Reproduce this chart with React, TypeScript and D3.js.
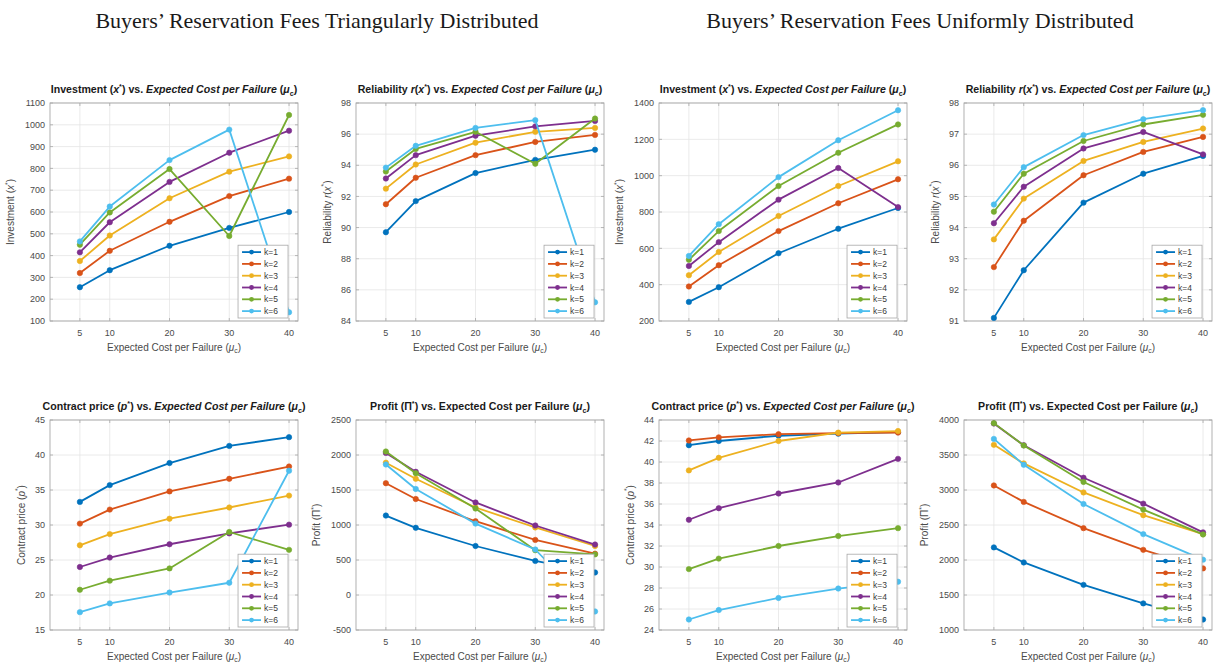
import React from "react";
import * as d3 from "d3";

// Expected cost per failure (x axis)
const X_VALUES = [5, 10, 20, 30, 40];
const X_TICKS = [5, 10, 20, 30, 40];
const SERIES_LABELS = ["k=1", "k=2", "k=3", "k=4", "k=5", "k=6"];
const SERIES_COLORS = ["#0072BD", "#D95319", "#EDB120", "#7E2F8E", "#77AC30", "#4DBEEE"];

// Buyers' reservation fees triangularly distributed
const triInvestment = [
  [255, 333, 445, 527, 600],
  [320, 422, 555, 673, 753],
  [375, 492, 663, 785, 855],
  [415, 553, 738, 872, 973],
  [450, 598, 797, 490, 1045],
  [465, 625, 838, 978, 140],
];
const triReliability = [
  [89.7, 91.7, 93.5, 94.35, 95.0],
  [91.5, 93.2, 94.65, 95.5, 95.95],
  [92.5, 94.05, 95.45, 96.15, 96.4],
  [93.15, 94.65, 95.9, 96.5, 96.85],
  [93.6, 95.05, 96.15, 94.1, 97.0],
  [93.85, 95.25, 96.4, 96.9, 85.2],
];
const triPrice = [
  [33.3, 35.7, 38.85, 41.3, 42.55],
  [30.2, 32.2, 34.8, 36.6, 38.35],
  [27.1, 28.7, 30.9, 32.5, 34.2],
  [24.0, 25.35, 27.25, 28.8, 30.05],
  [20.75, 22.05, 23.8, 29.0, 26.45],
  [17.55, 18.8, 20.35, 21.75, 37.75],
];
const triProfit = [
  [1135, 960, 700, 487, 322],
  [1597, 1371, 1054, 787, 590],
  [1890, 1660, 1250, 965, 700],
  [2030, 1760, 1322, 993, 721],
  [2050, 1740, 1235, 640, 580],
  [1865, 1515, 1020, 650, -235],
];

// Buyers' reservation fees uniformly distributed
const uniInvestment = [
  [305, 386, 573, 708, 822],
  [390, 507, 695, 848, 980],
  [452, 580, 778, 943, 1079],
  [503, 634, 868, 1042, 827],
  [537, 695, 943, 1126, 1282],
  [558, 733, 992, 1195, 1360],
];
const uniReliability = [
  [91.1, 92.63, 94.8, 95.73, 96.3],
  [92.73, 94.22, 95.68, 96.43, 96.91],
  [93.62, 94.93, 96.14, 96.75, 97.18],
  [94.14, 95.31, 96.54, 97.07, 96.35],
  [94.51, 95.73, 96.78, 97.31, 97.62],
  [94.74, 95.94, 96.97, 97.48, 97.77],
];
const uniPrice = [
  [41.6, 42.0, 42.5, 42.7, 42.85],
  [42.05, 42.35, 42.65, 42.75, 42.8],
  [39.2, 40.4, 42.0, 42.8, 42.95],
  [34.5, 35.6, 37.0, 38.05, 40.3],
  [29.8, 30.8, 32.0, 32.95, 33.7],
  [25.0, 25.9, 27.05, 27.95, 28.6],
];
const uniProfit = [
  [2180, 1965, 1645, 1380, 1150],
  [3065, 2830, 2455, 2145, 1880],
  [3645, 3380, 2965, 2640, 2370],
  [3950, 3640, 3175, 2805, 2395],
  [3955, 3635, 3115, 2720, 2365],
  [3730, 3360, 2800, 2370, 2005],
];

// Y tick values per panel
const ticksTriInvestment = [100, 200, 300, 400, 500, 600, 700, 800, 900, 1000, 1100];
const ticksTriReliability = [84, 86, 88, 90, 92, 94, 96, 98];
const ticksTriPrice = [15, 20, 25, 30, 35, 40, 45];
const ticksTriProfit = [-500, 0, 500, 1000, 1500, 2000, 2500];
const ticksUniInvestment = [200, 400, 600, 800, 1000, 1200, 1400];
const ticksUniReliability = [91, 92, 93, 94, 95, 96, 97, 98];
const ticksUniPrice = [24, 26, 28, 30, 32, 34, 36, 38, 40, 42, 44];
const ticksUniProfit = [1000, 1500, 2000, 2500, 3000, 3500, 4000];

const MAIN_TITLES = [
  "Buyers\u2019 Reservation Fees Triangularly Distributed",
  "Buyers\u2019 Reservation Fees Uniformly Distributed",
];

type Seg = { t: string; i?: boolean; sup?: boolean; sub?: boolean };

const costItalic: Seg[] = [
  { t: ") vs. " },
  { t: "Expected Cost per Failure", i: true },
  { t: " (" },
  { t: "\u03bc", i: true },
  { t: "c", sub: true },
  { t: ")" },
];
const costPlain: Seg[] = [
  { t: ") vs. Expected Cost per Failure (" },
  { t: "\u03bc", i: true },
  { t: "c", sub: true },
  { t: ")" },
];

const yInvestment: Seg[] = [{ t: "Investment (" }, { t: "x", i: true }, { t: "*", sup: true }, { t: ")" }];
const yReliability: Seg[] = [{ t: "Reliability " }, { t: "r", i: true }, { t: "(" }, { t: "x", i: true }, { t: "*", sup: true }, { t: ")" }];
const yPrice: Seg[] = [{ t: "Contract price (" }, { t: "p", i: true }, { t: "*", sup: true }, { t: ")" }];
const yProfit: Seg[] = [{ t: "Profit (\u03a0" }, { t: "*", sup: true }, { t: ")" }];
const xLabel: Seg[] = [{ t: "Expected Cost per Failure (" }, { t: "\u03bc", i: true }, { t: "c", sub: true }, { t: ")" }];

const tInvestment: Seg[] = [{ t: "Investment (" }, { t: "x", i: true }, { t: "*", sup: true }, ...costItalic];
const tReliability: Seg[] = [{ t: "Reliability " }, { t: "r", i: true }, { t: "(" }, { t: "x", i: true }, { t: "*", sup: true }, ...costItalic];
const tPrice: Seg[] = [{ t: "Contract price (" }, { t: "p", i: true }, { t: "*", sup: true }, ...costItalic];
const tProfit: Seg[] = [{ t: "Profit (\u03a0" }, { t: "*", sup: true }, ...costPlain];

type Panel = {
  row: number;
  col: number;
  title: Seg[];
  ylabel: Seg[];
  yTicks: number[];
  data: number[][];
};

const PANELS: Panel[] = [
  { row: 0, col: 0, title: tInvestment, ylabel: yInvestment, yTicks: ticksTriInvestment, data: triInvestment },
  { row: 0, col: 1, title: tReliability, ylabel: yReliability, yTicks: ticksTriReliability, data: triReliability },
  { row: 0, col: 2, title: tInvestment, ylabel: yInvestment, yTicks: ticksUniInvestment, data: uniInvestment },
  { row: 0, col: 3, title: tReliability, ylabel: yReliability, yTicks: ticksUniReliability, data: uniReliability },
  { row: 1, col: 0, title: tPrice, ylabel: yPrice, yTicks: ticksTriPrice, data: triPrice },
  { row: 1, col: 1, title: tProfit, ylabel: yProfit, yTicks: ticksTriProfit, data: triProfit },
  { row: 1, col: 2, title: tPrice, ylabel: yPrice, yTicks: ticksUniPrice, data: uniPrice },
  { row: 1, col: 3, title: tProfit, ylabel: yProfit, yTicks: ticksUniProfit, data: uniProfit },
];

// Layout of the subplot grid
const W = 1226;
const H = 666;
const COL_LEFT = [50, 356, 659, 964];
const AX_W = 248;
const ROW_TOP = [103, 420];
const ROW_H = [218, 210];
const X_DOMAIN: [number, number] = [0, 41.5];

const SANS = "'Liberation Sans', Arial, Helvetica, sans-serif";
const SERIF = "'Liberation Serif', 'Times New Roman', serif";

function Rich({ segs, size }: { segs: Seg[]; size: number }) {
  let shift = 0;
  return (
    <>
      {segs.map((s, i) => {
        const target = s.sup ? -size * 0.42 : s.sub ? size * 0.28 : 0;
        const dy = target - shift;
        shift = target;
        return (
          <tspan
            key={i}
            dy={dy !== 0 ? dy : undefined}
            fontStyle={s.i ? "italic" : undefined}
            fontSize={s.sup || s.sub ? size * 0.68 : undefined}
          >
            {s.t}
          </tspan>
        );
      })}
    </>
  );
}

function Subplot({ p }: { p: Panel }) {
  const left = COL_LEFT[p.col];
  const top = ROW_TOP[p.row];
  const axH = ROW_H[p.row];
  const right = left + AX_W;
  const bottom = top + axH;
  const yDomain = d3.extent(p.yTicks) as [number, number];
  const x = d3.scaleLinear().domain(X_DOMAIN).range([left, right]);
  const y = d3.scaleLinear().domain(yDomain).range([bottom, top]);
  const line = d3
    .line<number>()
    .x((_, i) => x(X_VALUES[i]))
    .y((d) => y(d));

  const maxLabelLen = d3.max(p.yTicks, (t) => String(t).length) ?? 3;
  const ylabelX = left - 6 - maxLabelLen * 5.2 - 9;
  const tick = 3;

  // Legend geometry (southeast corner)
  const legW = 50;
  const legRowH = 11.8;
  const legH = legRowH * SERIES_LABELS.length + 2;
  const legRight = x(40) - 1;
  const legLeft = legRight - legW;
  const legBottom = bottom - 3;
  const legTop = legBottom - legH;

  return (
    <g>
      {/* grid */}
      <g stroke="#e4e4e4" strokeWidth={0.8}>
        {X_TICKS.map((t) => (
          <line key={"gx" + t} x1={x(t)} x2={x(t)} y1={top} y2={bottom} />
        ))}
        {p.yTicks.map((t) => (
          <line key={"gy" + t} x1={left} x2={right} y1={y(t)} y2={y(t)} />
        ))}
      </g>
      {/* axes box and ticks */}
      <rect x={left} y={top} width={AX_W} height={axH} fill="none" stroke="#a8a8a8" strokeWidth={0.9} />
      <g stroke="#a8a8a8" strokeWidth={0.8}>
        {X_TICKS.map((t) => (
          <g key={"tx" + t}>
            <line x1={x(t)} x2={x(t)} y1={bottom} y2={bottom - tick} />
            <line x1={x(t)} x2={x(t)} y1={top} y2={top + tick} />
          </g>
        ))}
        {p.yTicks.map((t) => (
          <g key={"ty" + t}>
            <line x1={left} x2={left + tick} y1={y(t)} y2={y(t)} />
            <line x1={right} x2={right - tick} y1={y(t)} y2={y(t)} />
          </g>
        ))}
      </g>
      {/* tick labels */}
      <g fontFamily={SANS} fontSize={9} fill="#4a4a4a">
        {X_TICKS.map((t) => (
          <text key={"lx" + t} x={x(t)} y={bottom + 15} textAnchor="middle">
            {t}
          </text>
        ))}
        {p.yTicks.map((t) => (
          <text key={"ly" + t} x={left - 5} y={y(t) + 3.2} textAnchor="end">
            {t}
          </text>
        ))}
      </g>
      {/* axis labels */}
      <text x={(left + right) / 2} y={bottom + 29.5} textAnchor="middle" fontFamily={SANS} fontSize={10} fill="#4a4a4a">
        <Rich segs={xLabel} size={10} />
      </text>
      <text
        transform={`translate(${ylabelX},${(top + bottom) / 2}) rotate(-90)`}
        textAnchor="middle"
        fontFamily={SANS}
        fontSize={10}
        fill="#4a4a4a"
      >
        <Rich segs={p.ylabel} size={10} />
      </text>
      {/* title */}
      <text x={(left + right) / 2} y={top - 10} textAnchor="middle" fontFamily={SANS} fontSize={10.6} fontWeight="bold" fill="#1a1a1a">
        <Rich segs={p.title} size={10.6} />
      </text>
      {/* series */}
      {p.data.map((vals, k) => (
        <g key={"s" + k}>
          <path d={line(vals) ?? ""} fill="none" stroke={SERIES_COLORS[k]} strokeWidth={1.8} strokeLinejoin="round" />
          {vals.map((v, i) => (
            <circle key={i} cx={x(X_VALUES[i])} cy={y(v)} r={2.7} fill={SERIES_COLORS[k]} stroke={SERIES_COLORS[k]} strokeWidth={0.6} />
          ))}
        </g>
      ))}
      {/* legend */}
      <g>
        <rect x={legLeft} y={legTop} width={legW} height={legH} fill="#ffffff" stroke="#a8a8a8" strokeWidth={0.8} />
        {SERIES_LABELS.map((lab, k) => {
          const cy = legTop + 1 + legRowH * (k + 0.5);
          return (
            <g key={lab}>
              <line x1={legLeft + 4} x2={legLeft + 23} y1={cy} y2={cy} stroke={SERIES_COLORS[k]} strokeWidth={1.8} />
              <circle cx={legLeft + 13.5} cy={cy} r={2.4} fill={SERIES_COLORS[k]} />
              <text x={legLeft + 26} y={cy + 3} fontFamily={SANS} fontSize={8.5} fill="#3a3a3a">
                {lab}
              </text>
            </g>
          );
        })}
      </g>
    </g>
  );
}

export default function App() {
  return (
    <svg
      width={W}
      height={H}
      viewBox={`0 0 ${W} ${H}`}
      style={{ position: "absolute", left: 0, top: 0, background: "#ffffff" }}
    >
      <rect x={0} y={0} width={W} height={H} fill="#ffffff" />
      <text x={317} y={28} textAnchor="middle" fontFamily={SERIF} fontSize={22} fill="#1a1a1a">
        {MAIN_TITLES[0]}
      </text>
      <text x={920} y={28} textAnchor="middle" fontFamily={SERIF} fontSize={22} fill="#1a1a1a">
        {MAIN_TITLES[1]}
      </text>
      {PANELS.map((p, i) => (
        <Subplot key={i} p={p} />
      ))}
    </svg>
  );
}
